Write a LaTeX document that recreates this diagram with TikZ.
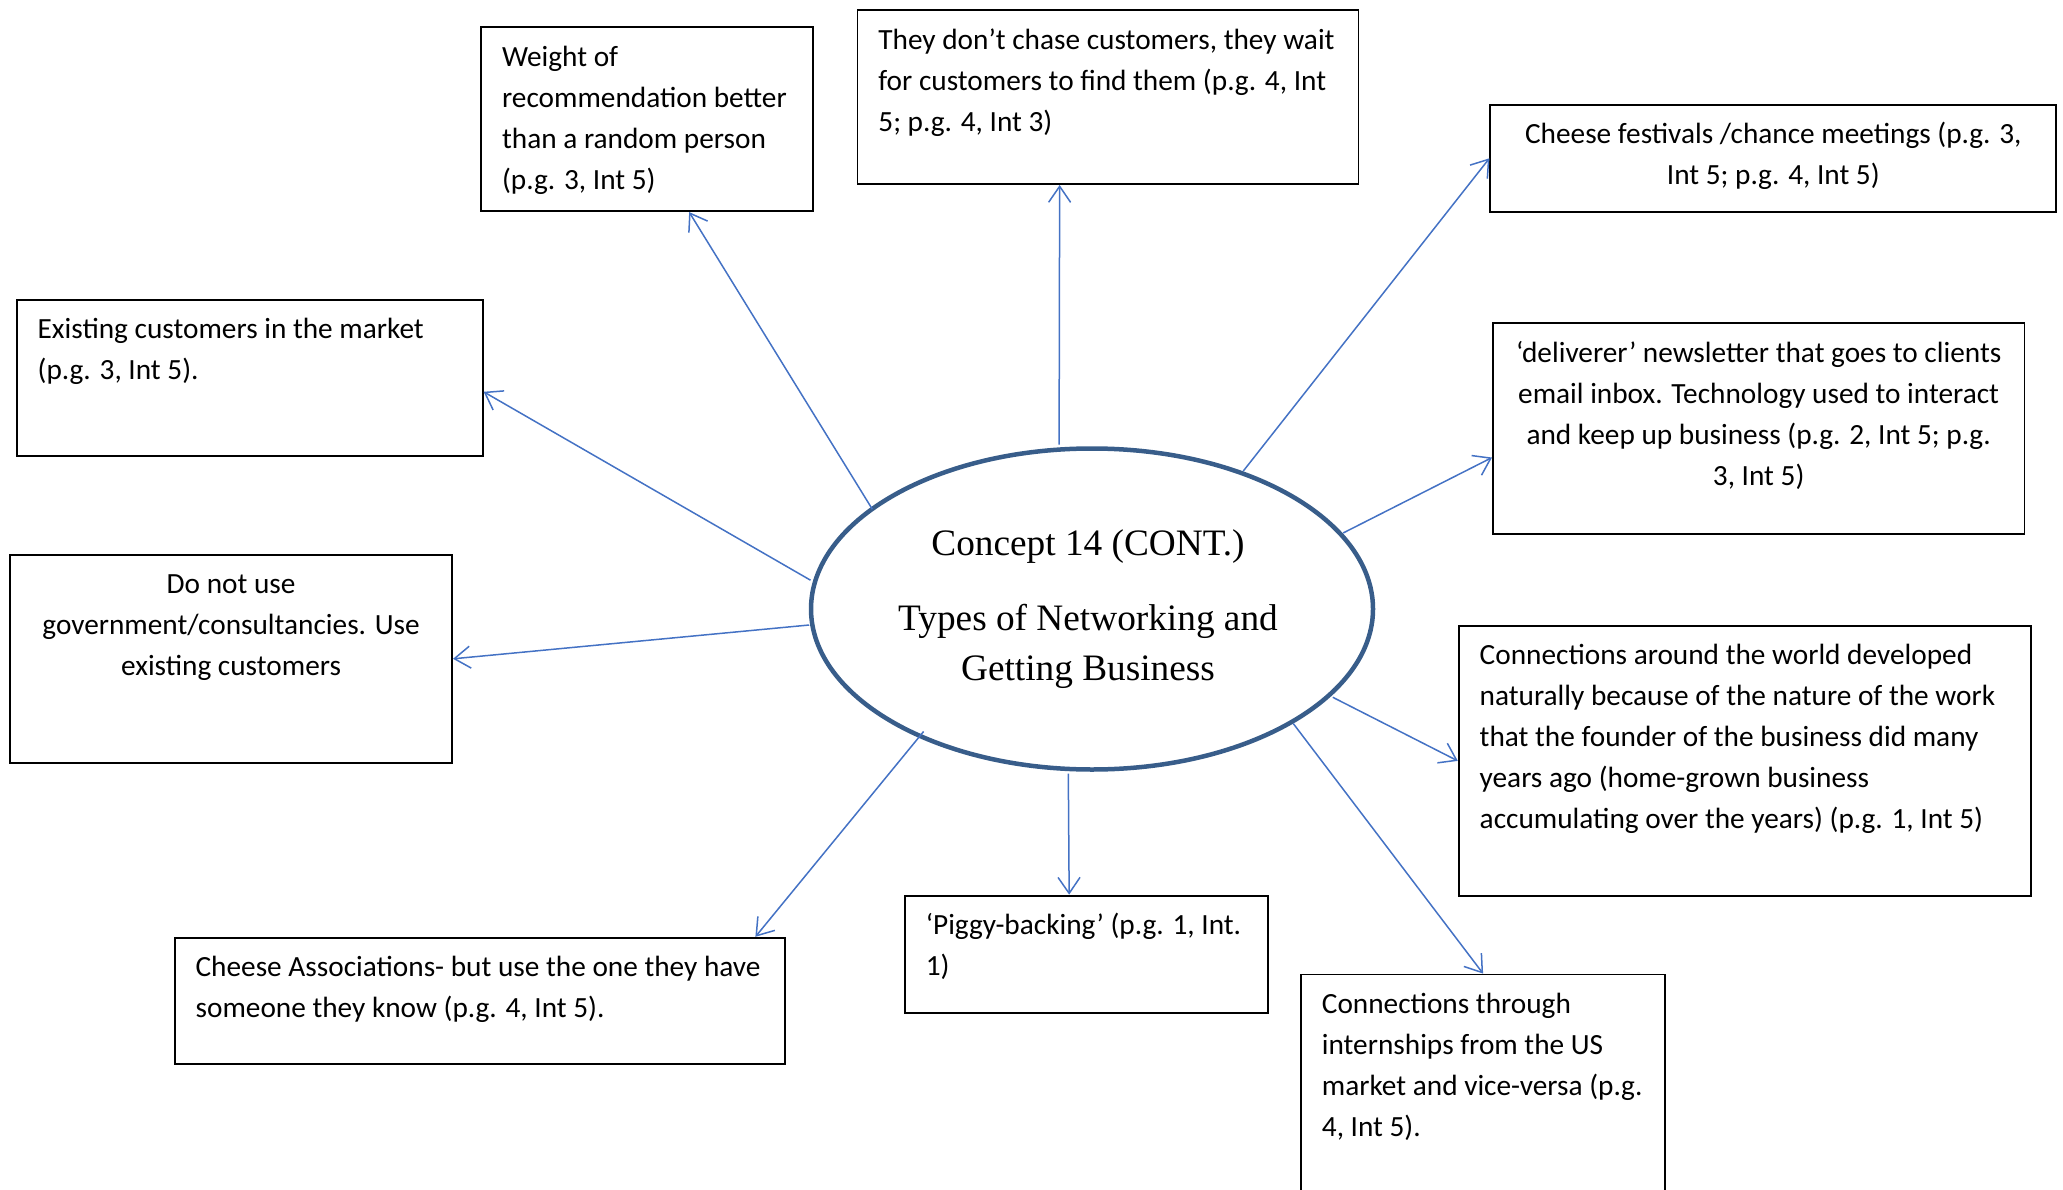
\documentclass[tikz,border=0pt]{standalone}
\usepackage{fontspec}
\setmainfont{Carlito}
\newfontfamily\hubfont{Liberation Serif}
\usetikzlibrary{shapes.geometric,arrows.meta,calc}
\definecolor{linkblue}{HTML}{4472C4}
\definecolor{hubblue}{HTML}{385D8A}

% box contents: total width #1, total height #2 (in pt), text #3
\newcommand\cardL[3]{\kern21pt\parbox[t][#2pt][t]{\dimexpr#1pt-42pt\relax}{\raggedright\rule{0pt}{39pt}#3}\kern21pt}
\newcommand\cardC[3]{\kern21pt\parbox[t][#2pt][t]{\dimexpr#1pt-42pt\relax}{\centering\rule{0pt}{39pt}#3}\kern21pt}

\tikzset{
  card/.style={draw=black, line width=1.8pt, inner sep=0pt, anchor=north west,
    font=\fontsize{29.3}{41}\selectfont},
  hub/.style={ellipse, draw=hubblue, line width=4.5pt, fill=white,
    minimum width=562pt, minimum height=321pt, inner sep=0pt, align=center,
    font=\hubfont\fontsize{37.3}{50}\selectfont},
  link/.style={draw=linkblue, line width=1.5pt,
    -{Straight Barb[length=16pt,width=22pt]}}
}

\begin{document}
\begin{tikzpicture}[x=1pt, y=-1pt]
\useasboundingbox (0,0) rectangle (2063,1190);
\clip (0,0) rectangle (2063,1190);

% central concept
\node[hub] (hub) at (1092,609) {Concept 14 (CONT.)\kern8pt\\[25pt]Types of Networking and\kern8pt\\Getting Business\kern8pt};

% surrounding boxes
\node[card] (wt) at (480.2,26.3) {\cardL{332}{184}{Weight of\\recommendation better\\than a random person\\(p.g. 3, Int 5)}};
\node[card] (chase) at (856.5,9.2) {\cardL{501}{174}{They don’t chase customers, they wait\\for customers to find them (p.g. 4, Int\\5; p.g. 4, Int 3)}};
\node[card] (fest) at (1489.4,103.9) {\cardC{566}{107}{Cheese festivals /chance meetings (p.g. 3,\\Int 5; p.g. 4, Int 5)}};
\node[card] (deliv) at (1492,322.3) {\cardC{531.5}{210.5}{‘deliverer’ newsletter that goes to clients\\email inbox. Technology used to interact\\and keep up business (p.g. 2, Int 5; p.g.\\3, Int 5)}};
\node[card] (world) at (1457.8,625) {\cardL{572}{270}{Connections around the world developed\\naturally because of the nature of the work\\that the founder of the business did many\\years ago (home-grown business\\accumulating over the years) (p.g. 1, Int 5)}};
\node[card] (intern) at (1300,973.6) {\cardL{364.4}{300}{Connections through\\internships from the US\\market and vice-versa (p.g.\\4, Int 5).}};
\node[card] (piggy) at (903.9,894.7) {\cardL{363}{117}{‘Piggy-backing’ (p.g. 1, Int.\\1)}};
\node[card] (assoc) at (173.7,936.8) {\cardL{610.5}{126}{Cheese Associations- but use the one they have\\someone they know (p.g. 4, Int 5).}};
\node[card] (donot) at (9.2,553.9) {\cardC{442}{208}{Do not use\\government/consultancies. Use\\existing customers}};
\node[card] (exist) at (15.8,298.7) {\cardL{466}{156.5}{Existing customers in the market\\(p.g. 3, Int 5).}};

% start points of the connectors on the ellipse
\coordinate (s1) at (872.3,509.2);
\coordinate (s2) at (1059.1,444.7);
\coordinate (s3) at (1243.3,471);
\coordinate (s4) at (1343.3,532.9);
\coordinate (s5) at (1332.8,697.3);
\coordinate (s6) at (1293.3,723.6);
\coordinate (s7) at (1068.3,773.6);
\coordinate (s8) at (923.6,731.5);
\coordinate (s9) at (809.2,625);
\coordinate (s10) at (810.5,580.2);

% connectors
\draw[link] (s1) -- ($(wt.south west)!0.626!(wt.south east)$);
\draw[link] (s2) -- ($(chase.south west)!0.404!(chase.south east)$);
\draw[link] (s3) -- (fest.west);
\draw[link] (s4) -- ($(deliv.north west)!0.637!(deliv.south west)$);
\draw[link] (s5) -- (world.west);
\draw[link] (s6) -- (intern.north);
\draw[link] (s7) -- ($(piggy.north west)!0.453!(piggy.north east)$);
\draw[link] (s8) -- ($(assoc.north west)!0.95!(assoc.north east)$);
\draw[link] (s9) -- (donot.east);
\draw[link] (s10) -- ($(exist.north east)!0.588!(exist.south east)$);
\end{tikzpicture}
\end{document}
